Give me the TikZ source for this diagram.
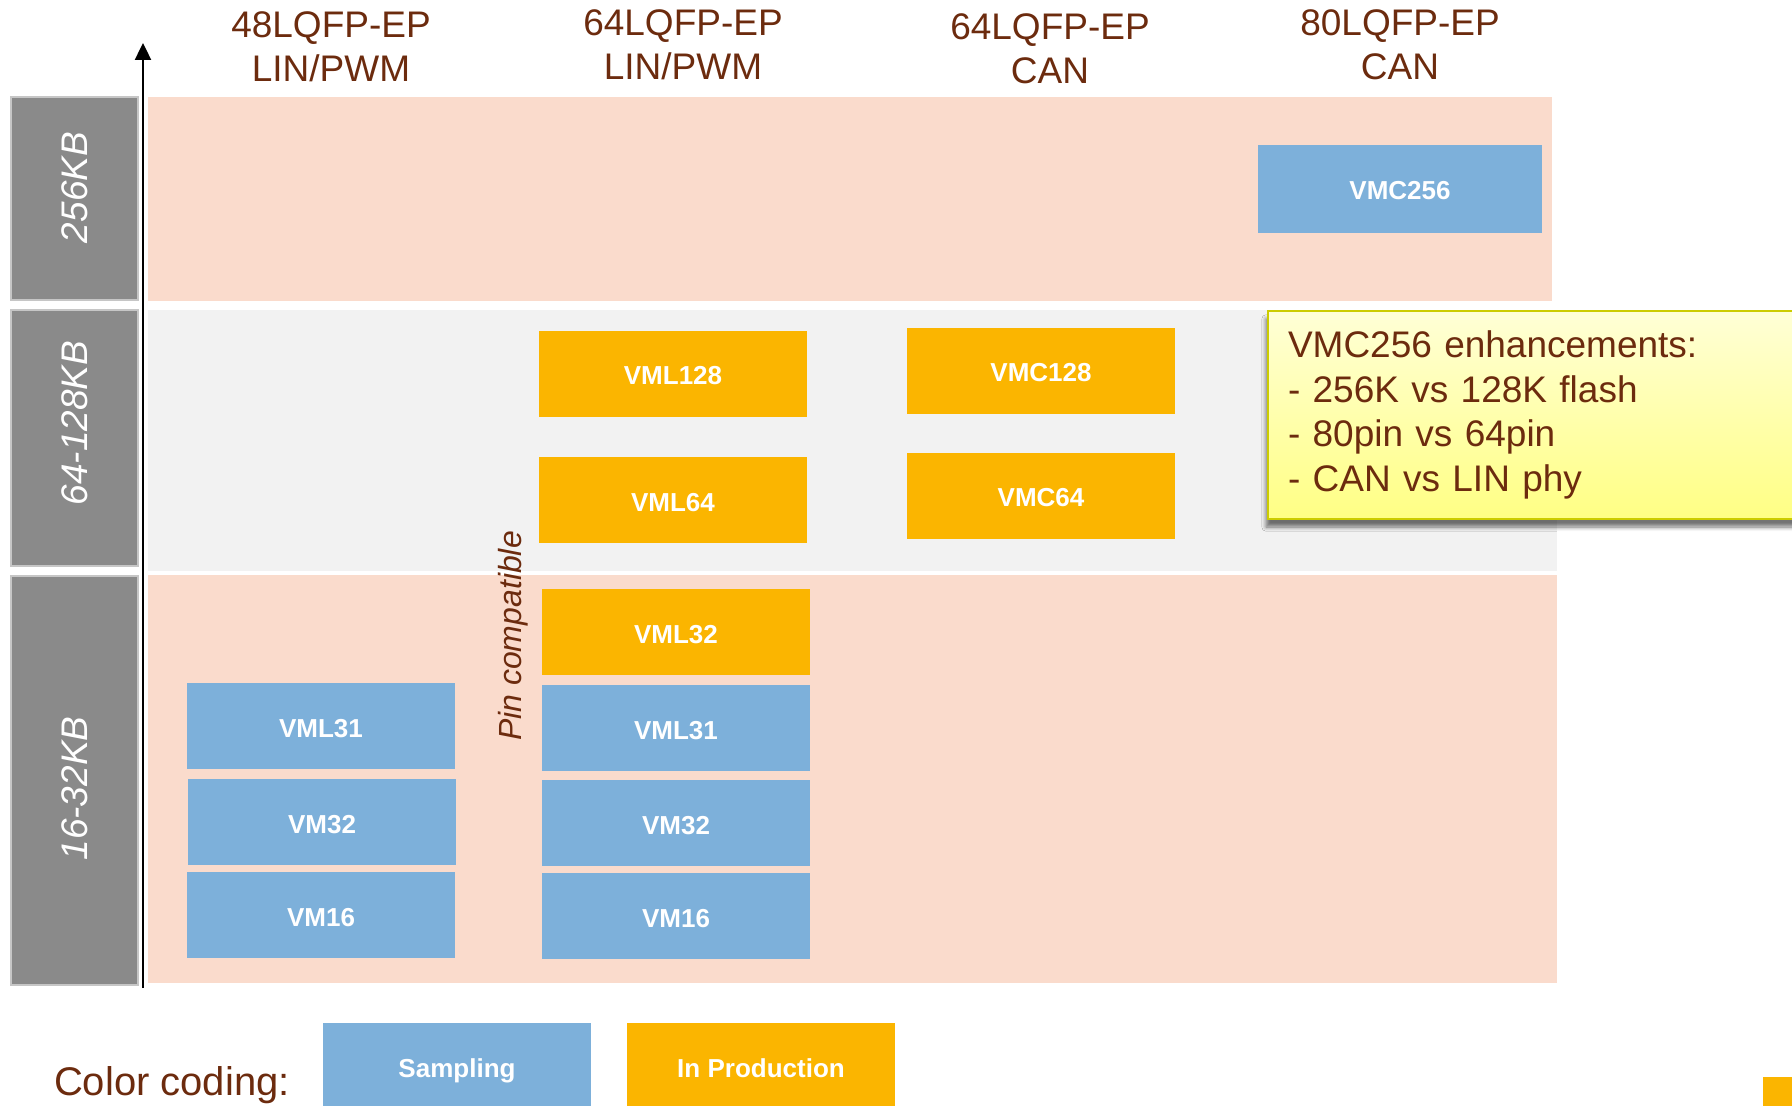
\documentclass[tikz,border=0pt]{standalone}
\usepackage{fontspec}
\setmainfont{Liberation Sans}
\usetikzlibrary{arrows.meta,shadows.blur}
\definecolor{textbrown}{RGB}{108,43,14}
\definecolor{sampblue}{RGB}{125,176,218}
\definecolor{prodorange}{RGB}{251,181,0}
\definecolor{bandsalmon}{RGB}{250,219,204}
\definecolor{bandgray}{RGB}{242,242,242}
\definecolor{sizegray}{RGB}{138,138,138}
\definecolor{noteedge}{RGB}{204,204,0}
\definecolor{notetop}{RGB}{255,255,214}
\definecolor{notebottom}{RGB}{255,255,132}

\begin{document}
\begin{tikzpicture}[
			x=0.5pt,y=-0.5pt,
			chipbox/.style={
				minimum width=134pt,
				minimum height=43pt,
				inner sep=0pt,
				text height=11pt,
				text depth=0pt,
				text=white,
				font=\fontsize{13}{15}\selectfont\bfseries
			},
			sampling/.style={chipbox,fill=sampblue},
			production/.style={chipbox,fill=prodorange},
			sizebox/.style={
				rotate=90,
				fill=sizegray,
				draw=gray!45,
				line width=0.6pt,
				minimum height=63.5pt,
				inner sep=0pt,
				text=white,
				font=\fontsize{18.5}{22}\selectfont\itshape
			},
			pkghead/.style={
				align=center,
				text=textbrown,
				font=\fontsize{18.5}{22}\selectfont
			},
			notebox/.style={
				draw=noteedge,
				line width=1pt,
				top color=notetop,
				bottom color=notebottom,
				blur shadow={shadow xshift=-1pt,shadow yshift=-4pt,shadow blur steps=6,shadow opacity=55},
				align=left,
				text width=260pt,
				minimum height=104pt,
				inner xsep=10pt,
				text=textbrown,
				font=\fontsize{18.5}{22.4}\selectfont
			},
			axisarrow/.style={
				-{Triangle[length=8.5pt,width=8pt]},
				line width=1.2pt
			}
			]
			\clip (0,0) rectangle (1792,1106);
			
			% Memory bands
			\fill[bandsalmon] (148,97) rectangle (1552,301);
			\fill[bandgray] (148,310) rectangle (1557,571);
			\fill[bandsalmon] (148,575) rectangle (1557,983);
			
			% Memory sizes
			\node[sizebox,minimum width=101.5pt] (kb256) at (74.5,198.5) {\hspace*{11pt}256KB};
			\node[sizebox,minimum width=128pt] (kb128) at (74.5,438) {\hspace*{15pt}64-128KB};
			\node[sizebox,minimum width=204.5pt] (kb32) at (74.5,780.5) {16-32KB\hspace*{8pt}};
			
			% Axis
			\coordinate (axisbot) at (143,988);
			\coordinate (axistop) at (143,43);
			\draw[axisarrow] (axisbot) -- (axistop);
			
			% Packages
			\node[pkghead] (pkgA) at (331,47) {48LQFP-EP\\LIN/PWM};
			\node[pkghead] (pkgB) at (683,45) {64LQFP-EP\\LIN/PWM};
			\node[pkghead] (pkgC) at (1050,49) {64LQFP-EP\\CAN};
			\node[pkghead] (pkgD) at (1400,45) {80LQFP-EP\\CAN};
			
			% 256KB
			\node[sampling,minimum width=142pt,minimum height=44pt] (vmc256) at (1400,189) {VMC256};
			
			% 64-128KB
			\node[production] (vml128) at (673,374) {VML128};
			\node[production] (vml64) at (673,500) {VML64};
			\node[production] (vmc128) at (1041,371) {VMC128};
			\node[production] (vmc64) at (1041,496) {VMC64};
			
			% 16-32KB
			\node[sampling] (vmlA) at (321,726) {VML31};
			\node[sampling] (vmA) at (322,822) {VM32};
			\node[sampling] (vmsA) at (321,915) {VM16};
			\node[production] (vmlB32) at (676,632) {VML32};
			\node[sampling] (vmlB) at (676,728) {VML31};
			\node[sampling] (vmB) at (676,823) {VM32};
			\node[sampling] (vmsB) at (676,916) {VM16};
			
			\node[rotate=90,text=textbrown,font=\fontsize{16}{19}\selectfont\itshape] (pincomp) at (513,636) {Pin compatible};
			
			% Enhancements note
			\node[notebox,anchor=north west] (enh) at (1267,310) {
				VMC256 enhancements:\\
				- 256K vs 128K flash\\
				- 80pin vs 64pin\\
				- CAN vs LIN phy
			};
			
			% Legend
			\node[anchor=base west,text=textbrown,font=\fontsize{20}{24}\selectfont] (legend) at (47,1095) {Color coding:};
			\node[sampling] (legsamp) at (457,1066) {Sampling};
			\node[production] (legprod) at (761,1066) {In Production};
			\fill[prodorange] (1763,1077) rectangle (1792,1106);
			
		\end{tikzpicture}
\end{document}
